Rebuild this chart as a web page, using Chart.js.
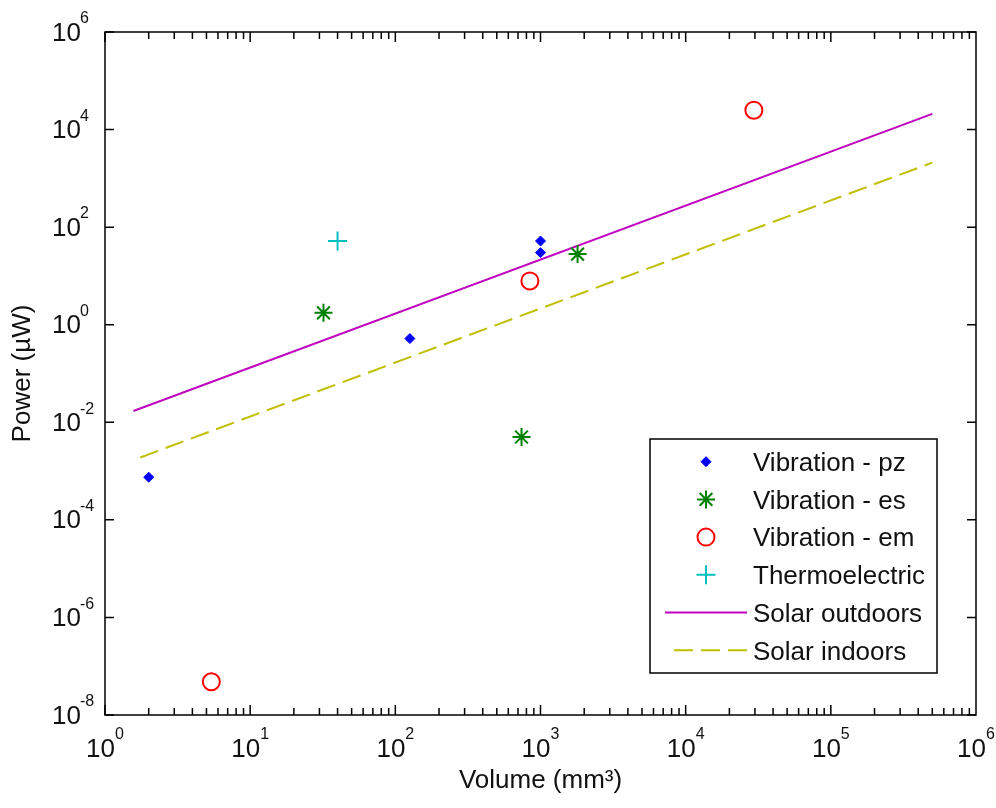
<!DOCTYPE html>
<html>
<head>
<meta charset="utf-8">
<script src="https://cdn.jsdelivr.net/npm/chart.js@4.4.1/dist/chart.umd.min.js"></script>
<style>
  html, body { margin: 0; padding: 0; background: #fff; }
  canvas { display: block; }
</style>
</head>
<body>
<canvas id="c" width="996" height="808"></canvas>
<script>
// harvester data, volume in mm^3 and power in uW
const pzVolume = [2, 126, 1000, 1000];
const pzPower = [7.5e-4, 0.52, 52, 30];
const esVolume = [32, 1800, 740];
const esPower = [1.75, 28, 0.005];
const emVolume = [5.4, 845, 29500];
const emPower = [4.8e-8, 7.9, 25000];
const teVolume = [40];
const tePower = [52];
const outdoorVolume = [1.57, 5e5];
const outdoorPower = [0.017, 2.1e4];
const indoorVolume = [1.75, 5e5];
const indoorPower = [0.0019, 2.1e3];

// decade exponents used for the tick labels
const xDecades = [0, 1, 2, 3, 4, 5, 6];
const yDecades = [-8, -6, -4, -2, 0, 2, 4, 6];

const FONT = '"Liberation Sans", Arial, sans-serif';
const INK = '#111';

function pts(xs, ys) {
  return xs.map((x, i) => ({ x: x, y: ys[i] }));
}

const datasets = [
  { label: 'Vibration - pz', data: pts(pzVolume, pzPower),
    pointStyle: 'rectRot', pointRadius: 5, pointBorderWidth: 1,
    borderColor: '#0000ff', backgroundColor: '#0000ff', showLine: false },
  { label: 'Vibration - es', data: pts(esVolume, esPower),
    pointStyle: 'star', pointRadius: 9, pointBorderWidth: 2,
    borderColor: '#008000', backgroundColor: '#008000', showLine: false },
  { label: 'Vibration - em', data: pts(emVolume, emPower),
    pointStyle: 'circle', pointRadius: 8.5, pointBorderWidth: 2,
    borderColor: '#ff0000', backgroundColor: 'rgba(0,0,0,0)', showLine: false },
  { label: 'Thermoelectric', data: pts(teVolume, tePower),
    pointStyle: 'cross', pointRadius: 9.5, pointBorderWidth: 2,
    borderColor: '#00bfbf', backgroundColor: '#00bfbf', showLine: false },
  { label: 'Solar outdoors', data: pts(outdoorVolume, outdoorPower),
    showLine: true, pointRadius: 0, borderWidth: 2,
    borderColor: '#bf00bf', backgroundColor: '#bf00bf' },
  { label: 'Solar indoors', data: pts(indoorVolume, indoorPower),
    showLine: true, pointRadius: 0, borderWidth: 2, borderDash: [19, 8],
    borderColor: '#bfbf00', backgroundColor: '#bfbf00' }
];

// box, inward ticks, 10^n labels and the legend, matlab style
const axesBox = {
  id: 'axesBox',
  afterDraw(chart) {
    const ctx = chart.ctx;
    const a = chart.chartArea;
    const xs = chart.scales.x, ys = chart.scales.y;
    ctx.save();
    ctx.strokeStyle = '#000';
    ctx.lineWidth = 1.5;
    ctx.strokeRect(a.left, a.top, a.right - a.left, a.bottom - a.top);

    ctx.beginPath();
    for (let d = 0; d < 6; d++) {
      for (let k = 1; k <= 9; k++) {
        const px = xs.getPixelForValue(k * Math.pow(10, d));
        const len = k === 1 ? 10 : 7;
        ctx.moveTo(px, a.bottom); ctx.lineTo(px, a.bottom - len);
        ctx.moveTo(px, a.top); ctx.lineTo(px, a.top + len);
      }
    }
    yDecades.forEach(e => {
      const py = ys.getPixelForValue(Math.pow(10, e));
      ctx.moveTo(a.left, py); ctx.lineTo(a.left + 9, py);
      ctx.moveTo(a.right, py); ctx.lineTo(a.right - 9, py);
    });
    ctx.stroke();

    ctx.fillStyle = INK;
    ctx.textBaseline = 'alphabetic';
    const big = '26px ' + FONT, small = '16px ' + FONT;
    xDecades.forEach(e => {
      const px = xs.getPixelForValue(Math.pow(10, e));
      const ex = String(e);
      ctx.font = big; const wb = ctx.measureText('10').width;
      ctx.font = small; const we = ctx.measureText(ex).width;
      const x0 = px - (wb + we) / 2;
      ctx.font = big; ctx.textAlign = 'left';
      ctx.fillText('10', x0, a.bottom + 42);
      ctx.font = small;
      ctx.fillText(ex, x0 + wb, a.bottom + 24);
    });
    yDecades.forEach(e => {
      const py = ys.getPixelForValue(Math.pow(10, e));
      ctx.font = big; ctx.textAlign = 'right';
      ctx.fillText('10', a.left - 24, py + 8.5);
      ctx.font = small; ctx.textAlign = 'left';
      ctx.fillText(String(e), a.left - 25, py - 8.7);
    });

    // legend
    const lx = 650, ly = 439, lw = 287, lh = 234, rowH = 37.7;
    ctx.fillStyle = '#fff';
    ctx.fillRect(lx, ly, lw, lh);
    ctx.strokeStyle = '#000';
    ctx.lineWidth = 1.5;
    ctx.strokeRect(lx, ly, lw, lh);
    chart.data.datasets.forEach((ds, i) => {
      const cy = ly + 22.7 + i * rowH;
      ctx.save();
      if (ds.showLine) {
        ctx.strokeStyle = ds.borderColor;
        ctx.lineWidth = ds.borderWidth;
        ctx.setLineDash(ds.borderDash || []);
        ctx.beginPath();
        const x1 = ds.borderDash ? 674 : 665;
        ctx.moveTo(x1, cy); ctx.lineTo(747, cy);
        ctx.stroke();
      } else {
        ctx.strokeStyle = ds.borderColor;
        ctx.fillStyle = ds.backgroundColor;
        ctx.lineWidth = ds.pointBorderWidth;
        Chart.helpers.drawPoint(ctx, {
          pointStyle: ds.pointStyle, radius: ds.pointRadius,
          rotation: 0, borderWidth: ds.pointBorderWidth
        }, 706, cy);
      }
      ctx.restore();
      ctx.fillStyle = INK;
      ctx.font = '26px ' + FONT;
      ctx.textAlign = 'left';
      ctx.fillText(ds.label, 753, cy + 9.3);
    });
    ctx.restore();
  }
};

Chart.defaults.color = INK;
Chart.defaults.font.family = FONT;

new Chart(document.getElementById('c'), {
  type: 'scatter',
  data: { datasets: datasets },
  options: {
    responsive: false,
    animation: false,
    events: [],
    layout: { padding: { left: 0, top: 32, right: 20, bottom: 0 } },
    plugins: { legend: { display: false }, tooltip: { enabled: false } },
    scales: {
      x: {
        type: 'logarithmic', min: 1, max: 1e6,
        ticks: { display: false },
        grid: { display: false },
        border: { display: false },
        title: { display: true, text: 'Volume (mm³)', color: INK,
                 font: { size: 26 }, padding: { top: 0, bottom: 12 } },
        afterFit(s) { s.height = 93; }
      },
      y: {
        type: 'logarithmic', min: 1e-8, max: 1e6,
        ticks: { display: false },
        grid: { display: false },
        border: { display: false },
        title: { display: true, text: 'Power (µW)', color: INK,
                 font: { size: 26 }, padding: { top: 7, bottom: 0 } },
        afterFit(s) { s.width = 105; }
      }
    }
  },
  plugins: [axesBox]
});
</script>
</body>
</html>
